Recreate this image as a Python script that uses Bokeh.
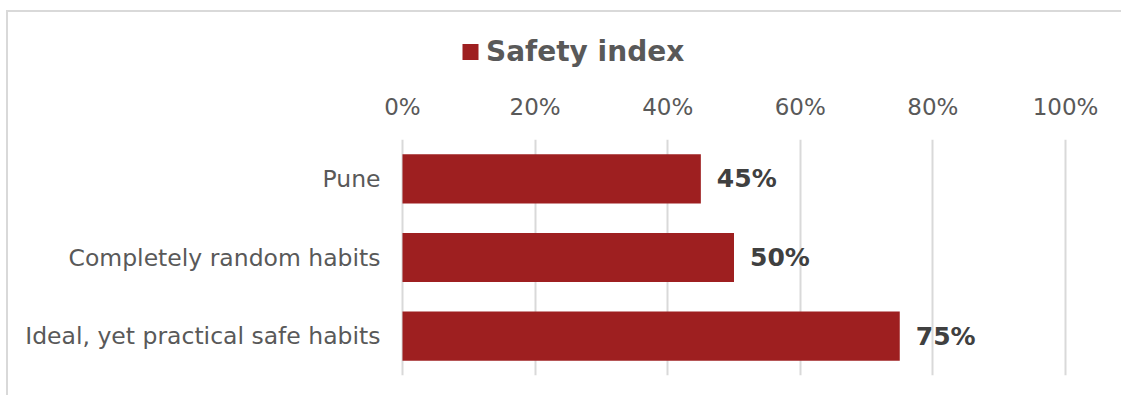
from bokeh.plotting import figure
from bokeh.layouts import column, row, Spacer
from bokeh.models import (ColumnDataSource, FactorRange, Range1d, LabelSet, Legend, LegendItem,
                          NumeralTickFormatter, FixedTicker)
from bokeh.core.properties import value
from bokeh.embed import file_html
from bokeh.resources import INLINE

categories = ["Pune", "Completely random habits", "Ideal, yet practical safe habits"]
values = [0.45, 0.50, 0.75]
series_name = "Safety index"
x_ticks = [0, 0.2, 0.4, 0.6, 0.8, 1.0]

BAR = "#9e1f20"
FONT = "DejaVu Sans"
W = 1113

src = ColumnDataSource(dict(cat=categories, val=values,
                            lbl=[f"{round(v*100)}%" for v in values]))

# ---------- legend strip (series key) ----------
leg = figure(width=260, height=78, output_backend="svg", toolbar_location=None,
             x_axis_type=None, y_axis_type=None,
             x_range=Range1d(0, 1), y_range=FactorRange(factors=list(reversed(categories))),
             min_border_left=0, min_border_right=0, min_border_top=0, min_border_bottom=0)
leg.outline_line_color = None
leg.grid.grid_line_color = None
lr = leg.hbar(y="cat", right="val", left=0, height=0.625, source=src,
              fill_color=BAR, line_color=None)
lr.visible = False
legend = Legend(items=[LegendItem(label=series_name, renderers=[lr])],
                location="left", orientation="horizontal",
                glyph_width=20, glyph_height=20, label_standoff=6,
                label_text_font=FONT, label_text_font_size="28px",
                label_text_font_style="bold", label_text_color="#595959",
                border_line_color=None, background_fill_alpha=0,
                inactive_fill_alpha=0,
                padding=0, margin=0, spacing=0)
leg.add_layout(legend)

# ---------- main chart ----------
p = figure(width=W, height=305, output_backend="svg", toolbar_location=None,
           y_range=FactorRange(factors=list(reversed(categories)), range_padding=0),
           x_range=Range1d(-0.003, 1.003), x_axis_location="above",
           min_border_left=392, min_border_right=54, min_border_bottom=20, min_border_top=45)
p.outline_line_color = None
p.background_fill_color = "white"
p.border_fill_color = "white"

p.hbar(y="cat", right="val", left=0, height=0.625, source=src,
       fill_color=BAR, line_color=None)

p.xaxis.ticker = FixedTicker(ticks=x_ticks)
p.xaxis.formatter = NumeralTickFormatter(format="0%")
for ax in (p.xaxis[0], p.yaxis[0]):
    ax.axis_line_color = None
    ax.major_tick_line_color = None
    ax.minor_tick_line_color = None
    ax.major_label_text_font = FONT
    ax.major_label_text_color = "#595959"
    ax.major_label_text_font_size = "23px"
p.yaxis.major_label_text_font_size = "23.5px"
p.xaxis.major_label_standoff = 14
p.yaxis.major_label_standoff = 14

p.xgrid.grid_line_color = "#d9d9d9"
p.xgrid.grid_line_width = 2
p.xgrid.ticker = FixedTicker(ticks=x_ticks)
p.ygrid.grid_line_color = None

labels = LabelSet(x="val", y="cat", text="lbl", source=src, x_offset=16,
                  text_baseline="middle", text_align="left",
                  text_font=value(FONT), text_font_size="25px", text_font_style="bold",
                  text_color="#404040")
p.add_layout(labels)

lay = column(row(Spacer(width=452, height=78), leg, spacing=0), p, spacing=0)
lay.styles = {"margin-left": "6px", "margin-top": "10px",
              "border-left": "2px solid #d9d9d9", "border-top": "2px solid #d9d9d9"}

open("out.html", "w").write(file_html(lay, INLINE))
